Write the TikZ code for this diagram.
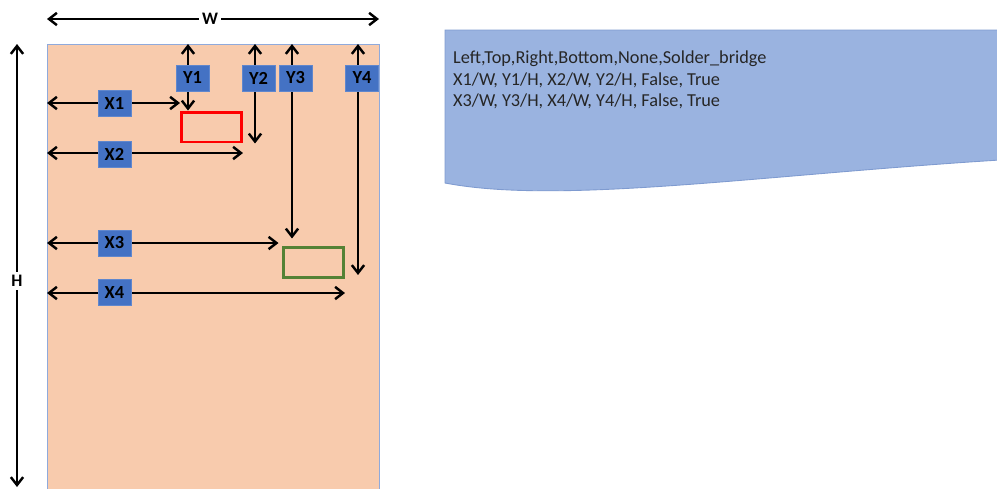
\documentclass[tikz,border=0pt]{standalone}
\usepackage{fontspec}
\setmainfont{Carlito}
\usetikzlibrary{arrows.meta,positioning}
\definecolor{boardfill}{HTML}{F8CBAD}
\definecolor{boardline}{HTML}{8FAADC}
\definecolor{tagfill}{HTML}{4472C4}
\definecolor{notefill}{HTML}{9AB3E0}
\definecolor{noteline}{HTML}{7F9BD0}
\definecolor{padgreen}{HTML}{548235}
\tikzset{
  dim/.style={<->,line width=1.4pt},
  tag/.style={fill=tagfill,draw=tagfill!85!white,minimum width=0.66cm,minimum height=0.52cm,inner sep=0pt,font=\bfseries\fontsize{10.5}{11}\selectfont},
  pad/.style={draw,line width=1.7pt,minimum width=1.2cm,minimum height=0.6cm,inner sep=0pt},
  dimlabel/.style={fill=white,inner sep=2pt,font=\bfseries\fontsize{10}{11}\selectfont}
}

\begin{document}
\begin{tikzpicture}[x=0.02cm,y=-0.02cm,>={Straight Barb[length=4.5pt,width=7pt]}]
        \useasboundingbox (0,0) rectangle (997,488);
        % board and the two pads
        \node[fill=boardfill,draw=boardline,line width=0.5pt,minimum width=6.64cm,minimum height=8.96cm,inner sep=0pt,anchor=north west] (board) at (47,44) {};
        \node[pad,draw=red] (red) at (211.5,127) {};
        \node[pad,draw=padgreen] (green) at (313.5,262) {};
        % note with the csv rows
        \draw[fill=notefill,draw=noteline,line width=0.5pt] (445,30) -- (1000,30) -- (1000,160)
          .. controls (760,175) and (560,205) .. (445,183) -- cycle;
        \node[anchor=north west,align=left,text=black!85,font=\fontsize{10.4}{12.2}\selectfont] (note) at (447,45)
          {Left,Top,Right,Bottom,None,Solder\_bridge\\
           X1/W, Y1/H, X2/W, Y2/H, False, True\\
           X3/W, Y3/H, X4/W, Y4/H, False, True};
        % overall size
        \coordinate (wl) at (47,19);
        \coordinate (wr) at (379,19);
        \coordinate (ht) at (17,44);
        \coordinate (hb) at (17,487);
        \draw[dim] (wl) -- (wr);
        \draw[dim] (ht) -- (hb);
        \node[dimlabel] (w) at (210,19) {W};
        \node[dimlabel] (h) at (17,281) {H};
        % offsets of the pads
        \draw[dim] (board.north -| 188,0) -- (188,0 |- red.north);
        \draw[dim] (board.north -| 255,0) -- (255,0 |- red.south);
        \draw[dim,shorten >=4pt] (board.north -| 292,0) -- (292,0 |- green.north);
        \draw[dim,shorten >=2pt] (board.north -| 358,0) -- (358,0 |- green.south);
        \draw[dim] (board.west |- 0,103) -- (red.west |- 0,103);
        \draw[dim] (board.west |- 0,153) -- (red.east |- 0,153);
        \draw[dim,shorten >=2pt] (board.west |- 0,243) -- (green.west |- 0,243);
        \draw[dim] (board.west |- 0,293) -- (green.east |- 0,293);
        \node[tag] (y1) at (192.5,78) {Y1};
        \node[tag] (y2) at (258.5,78) {Y2};
        \node[tag] (y3) at (295.5,78) {Y3};
        \node[tag] (y4) at (362,78) {Y4};
        \node[tag] (x1) at (114.5,103.5) {X1};
        \node[tag] (x2) at (114.5,154) {X2};
        \node[tag] (x3) at (114.5,243) {X3};
        \node[tag] (x4) at (114.5,292.5) {X4};
\end{tikzpicture}
\end{document}
